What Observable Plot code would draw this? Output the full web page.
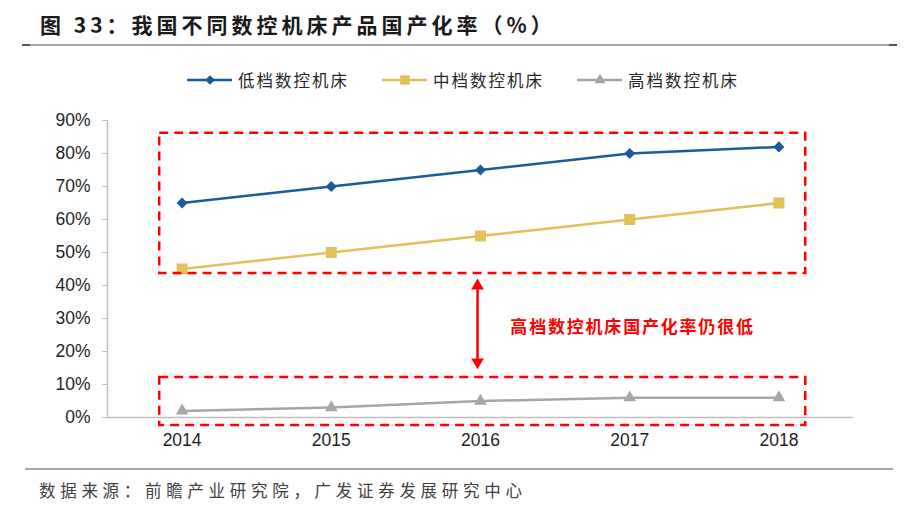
<!DOCTYPE html>
<html>
<head>
<meta charset="utf-8">
<script src="https://cdn.jsdelivr.net/npm/d3@7"></script>
<script src="https://cdn.jsdelivr.net/npm/@observablehq/plot@0.6"></script>
<style>
  html, body { margin: 0; padding: 0; background: #fff; }
  #page { position: relative; width: 910px; height: 505px; overflow: hidden; background: #fff; }
  #title { position: absolute; left: 40px; top: 9px; font-family: "Noto Sans CJK SC", sans-serif; font-weight: bold; font-size: 21px; letter-spacing: 4px; color: #1a1a1a; line-height: 30px; white-space: nowrap; }
  #rule1 { position: absolute; left: 22px; width: 875px; top: 44px; height: 2px; background: linear-gradient(to right, #555 0, #555 8px, #a6a6a6 8px, #a6a6a6 867px, #555 867px); }
  .leg { position: absolute; top: 70px; height: 20px; display: flex; align-items: center; font-family: "Noto Sans CJK SC", sans-serif; font-size: 16.5px; letter-spacing: 2px; color: #262626; white-space: nowrap; }
  .leg svg { margin-right: 6px; }
  #chart { position: absolute; left: 0; top: 95px; }
  #rule2 { position: absolute; left: 25px; width: 868px; top: 468px; height: 2px; background: #a6a6a6; }
  #source { position: absolute; left: 39px; top: 477px; font-family: "Noto Sans CJK SC", sans-serif; font-size: 16.5px; letter-spacing: 4.7px; color: #404040; line-height: 26px; white-space: nowrap; }
</style>
</head>
<body>
<div id="page">
  <div id="title">图 33：我国不同数控机床产品国产化率（%）</div>
  <div id="rule1"></div>
  <div id="legend"></div>
  <div id="chart"></div>
  <div id="rule2"></div>
  <div id="source">数据来源：前瞻产业研究院，广发证券发展研究中心</div>
</div>
<script>
// ---- data ----
const years = [2014, 2015, 2016, 2017, 2018];
const seriesNames = ["低档数控机床", "中档数控机床", "高档数控机床"];
const lowEnd = [65, 70, 75, 80, 82];
const midEnd = [45, 50, 55, 60, 65];
const highEnd = [2, 3, 5, 6, 6];
const yTicks = [0, 10, 20, 30, 40, 50, 60, 70, 80, 90];
const annotationText = ["高档数控机床国产化率仍很低"];

// ---- styles ----
const colors = ["#1b5b9a", "#e3c15a", "#a6a6a6"];
const symbols = ["diamond2", "square", "triangle"];
const radii = [5, 6.2, 4.7];
const red = "#ff0000";

const values = [lowEnd, midEnd, highEnd];
const table = seriesNames.flatMap((s, i) => years.map((yr, j) => ({year: yr, value: values[i][j], series: s})));

// annotation boxes in data space
const boxes = [
  {x1: 2013.85, x2: 2018.18, y1: 43.6, y2: 86.1},
  {x1: 2013.85, x2: 2018.18, y1: -2.4, y2: 12.1}
];
const arrow = {x: 2015.98, top: 39.9, bottom: 16.8};

// ---- legend ----
const legendPos = [187, 382, 577];
const legend = d3.select("#legend");
seriesNames.forEach((name, i) => {
  const item = legend.append("div").attr("class", "leg").style("left", legendPos[i] + "px");
  const svg = item.append("svg").attr("width", 45).attr("height", 16);
  svg.append("line").attr("x1", 0).attr("x2", 45).attr("y1", 8).attr("y2", 8)
    .attr("stroke", colors[i]).attr("stroke-width", 2.5);
  const symMap = {diamond2: d3.symbolDiamond2, square: d3.symbolSquare, triangle: d3.symbolTriangle};
  svg.append("path").attr("transform", "translate(23,8)")
    .attr("d", d3.symbol(symMap[symbols[i]], Math.PI * radii[i] * radii[i] * 0.75)())
    .attr("fill", colors[i]);
  item.append("span").text(name);
});

// ---- chart ----
const marks = [
  Plot.ruleY([0], {x1: 2013.5, x2: 2018.5, stroke: "#bfbfbf", strokeWidth: 1.5}),
  Plot.ruleX([2013.5], {y1: 0, y2: 90, stroke: "#bfbfbf", strokeWidth: 1.5}),
  Plot.axisY({ticks: yTicks, tickFormat: d => d + "%", tickSize: 5, tickPadding: 12, fontSize: 17.5, stroke: "#bfbfbf", fill: "#1f1f1f"}),
  Plot.axisX({ticks: years, tickFormat: d => String(d), tickSize: 0, tickPadding: 16, fontSize: 17.5, fill: "#1f1f1f"}),
  Plot.line(table, {x: "year", y: "value", stroke: "series", strokeWidth: 2.5}),
  ...seriesNames.map((s, i) => Plot.dot(table.filter(d => d.series === s), {
    x: "year", y: "value", symbol: () => symbols[i], fill: colors[i], r: radii[i], stroke: "none"
  })),
  Plot.rect(boxes, {x1: "x1", x2: "x2", y1: "y1", y2: "y2", fill: "none", stroke: red, strokeWidth: 2.5, strokeDasharray: "9,6"}),
  Plot.link([arrow], {x1: "x", x2: "x", y1: "top", y2: "bottom", stroke: red, strokeWidth: 2.5}),
  Plot.dot([{x: arrow.x, y: arrow.top, rot: 0}, {x: arrow.x, y: arrow.bottom, rot: 180}],
    {x: "x", y: "y", symbol: "triangle", r: 4.7, fill: red, stroke: "none", rotate: "rot"}),
  Plot.text(annotationText, {x: () => 2016.2, y: () => 27.3, text: d => d, textAnchor: "start", fill: red,
    fontSize: 17, fontWeight: "bold", fontFamily: "Noto Sans CJK SC, sans-serif", className: "annot"})
];

const chart = Plot.plot({
  width: 910,
  height: 370,
  marginLeft: 107,
  marginRight: 57,
  marginTop: 25,
  marginBottom: 48,
  x: {domain: [2013.5, 2018.5], axis: null},
  y: {domain: [0, 90], axis: null},
  color: {domain: seriesNames, range: colors},
  style: {fontFamily: "'Liberation Sans', Arial, sans-serif", background: "transparent", overflow: "visible"},
  marks
});
d3.select(chart).selectAll(".annot text").attr("letter-spacing", "1.8px");
document.getElementById("chart").appendChild(chart);
</script>
</body>
</html>
